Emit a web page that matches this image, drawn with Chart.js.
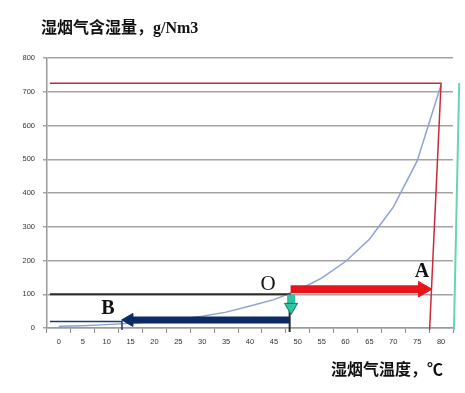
<!DOCTYPE html>
<html>
<head>
<meta charset="utf-8">
<script src="https://cdn.jsdelivr.net/npm/chart.js@4/dist/chart.umd.min.js"></script>
<style>
  html, body { margin: 0; padding: 0; background: #fff; }
  #wrap { width: 465px; height: 393px; position: relative; }
</style>
</head>
<body>
<div id="wrap"><canvas id="chart"></canvas></div>
<script>
'use strict';

// x categories (temperature, °C) and saturated moisture content (g/Nm3)
const temps = ['0', '5', '10', '15', '20', '25', '30', '35', '40', '45', '50', '55', '60', '65', '70', '75', '80'];
const moisture = [5, 7, 10, 14, 19, 26, 35, 47, 65, 84, 112, 148, 197, 263, 358, 495, 720];

// helper lines, in temperature / moisture units
const redFrameX = [-1.9, 80, 77.6];
const redFrameY = [725, 725, -5];
const greenLineX = [83.8, 82.7];
const greenLineY = [726, -6];
const oLineX = [-1.9, 48.3, 48.3];
const oLineY = [100, 100, -12];
const bLineX = [-1.9, 13.2, 13.2];
const bLineY = [19, 19, -6];

// arrows: A (heating), B (cooling), down arrow at O
const arrowAX = [48.5, 76.2];
const arrowAY = [115, 115];
const arrowBX = [48.3, 14.7];
const arrowBY = [24, 24];
const arrowDownX = [48.6, 48.6];
const arrowDownY = [99, 62];

const yTicks = { min: 0, max: 800, step: 100 };

const pts = (xs, ys) => xs.map((x, i) => ({ x, y: ys[i] }));

/**
 * Build a line dataset on the hidden linear x axis.
 */
function overlay(xs, ys, color, width, order, extra = {}) {
  return {
    type: 'line',
    xAxisID: 'x2',
    data: pts(xs, ys),
    borderColor: color,
    backgroundColor: color,
    borderWidth: width,
    pointRadius: 0,
    tension: 0,
    clip: false,
    order,
    ...extra,
  };
}

/**
 * Arrow = thick line with a triangle point at its end.
 */
function arrow(xs, ys, color, width, headR, rot, order, headBorder) {
  return overlay(xs, ys, color, width, order, {
    pointStyle: 'triangle',
    pointRadius: [0, headR],
    rotation: [0, rot],
    pointBackgroundColor: color,
    pointBorderColor: headBorder || color,
    pointBorderWidth: 1,
    borderCapStyle: 'butt',
  });
}

const textPlugin = {
  id: 'texts',
  afterDraw(chart) {
    const { ctx } = chart;
    ctx.save();
    ctx.fillStyle = '#111';
    ctx.textBaseline = 'middle';
    ctx.textAlign = 'left';
    ctx.font = 'bold 16px "Liberation Serif", "Noto Sans CJK SC"';
    ctx.fillText('湿烟气含湿量，g/Nm3', 41, 29);
    ctx.fillText('湿烟气温度，℃', 331, 371);

    ctx.textAlign = 'center';
    ctx.font = '21px "Liberation Serif"';
    ctx.fillText('O', 268, 284);
    ctx.font = 'bold 20px "Liberation Serif"';
    ctx.fillText('A', 422, 272);
    ctx.fillText('B', 108, 309);
    ctx.restore();
  },
};

new Chart(document.getElementById('chart'), {
  data: {
    labels: temps,
    datasets: [
      arrow(arrowAX, arrowAY, '#e8131b', 8, 9, 90, 0),
      arrow(arrowBX, arrowBY, '#0c2a66', 7, 7.5, -90, 1),
      arrow(arrowDownX, arrowDownY, '#2fc4a4', 8, 7.5, 180, 0, '#1b6d5e'),
      overlay(oLineX, oLineY, '#2b2b2b', 2, 3),
      overlay(bLineX, bLineY, '#1f3a7a', 1.5, 3),
      overlay(redFrameX, redFrameY, '#c92a3a', 1.5, 4),
      overlay(greenLineX, greenLineY, '#64d6b4', 2, 4),
      {
        type: 'line',
        xAxisID: 'x',
        data: moisture,
        borderColor: '#8ba3d4',
        borderWidth: 1.5,
        pointRadius: 0,
        tension: 0,
        order: 5,
      },
    ],
  },
  options: {
    responsive: true,
    maintainAspectRatio: false,
    animation: false,
    layout: { padding: { top: 58, right: 12, bottom: 0, left: 0 } },
    plugins: { legend: { display: false }, tooltip: { enabled: false } },
    scales: {
      x: {
        type: 'category',
        offset: true,
        grid: { offset: true, drawOnChartArea: false, tickLength: 5, color: '#8c8c8c', lineWidth: 1 },
        border: { color: '#9a9a9a', width: 1.5 },
        ticks: { color: '#333', font: { family: 'Liberation Sans', size: 7.5 }, padding: 4, maxRotation: 0, autoSkip: false },
        afterFit(s) { s.height = 65; },
      },
      x2: { type: 'linear', display: false, min: -2.5, max: 82.5 },
      y: {
        min: yTicks.min,
        max: yTicks.max,
        ticks: { stepSize: yTicks.step, color: '#333', font: { family: 'Liberation Sans', size: 7.5 }, padding: 8 },
        grid: { color: '#a3a3a3', lineWidth: 1.5, tickLength: 4 },
        border: { color: '#9a9a9a', width: 1.5 },
        afterFit(s) { s.width = 47; },
      },
    },
  },
  plugins: [textPlugin],
});
</script>
</body>
</html>
